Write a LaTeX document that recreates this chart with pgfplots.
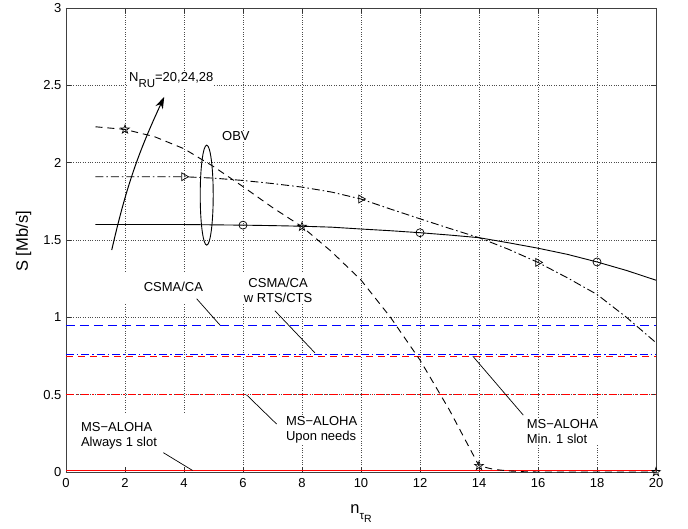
\documentclass[border=0pt]{standalone}
\usepackage{pgfplots}
\pgfplotsset{compat=1.18}
\usepackage{fontspec}
\setmainfont{Liberation Sans}
\usetikzlibrary{arrows.meta}

\pgfdeclareplotmark{pentagram}{%
  \pgfpathmoveto{\pgfpointpolar{90}{\pgfplotmarksize}}%
  \pgfpathlineto{\pgfpointpolar{126}{0.4\pgfplotmarksize}}%
  \pgfpathlineto{\pgfpointpolar{162}{\pgfplotmarksize}}%
  \pgfpathlineto{\pgfpointpolar{198}{0.4\pgfplotmarksize}}%
  \pgfpathlineto{\pgfpointpolar{234}{\pgfplotmarksize}}%
  \pgfpathlineto{\pgfpointpolar{270}{0.4\pgfplotmarksize}}%
  \pgfpathlineto{\pgfpointpolar{306}{\pgfplotmarksize}}%
  \pgfpathlineto{\pgfpointpolar{342}{0.4\pgfplotmarksize}}%
  \pgfpathlineto{\pgfpointpolar{18}{\pgfplotmarksize}}%
  \pgfpathlineto{\pgfpointpolar{54}{0.4\pgfplotmarksize}}%
  \pgfpathclose
  \pgfusepathqstroke
}

\definecolor{mblue}{RGB}{0,0,255}
\definecolor{mred}{RGB}{255,0,0}

\tikzset{
  dsh/.style={dash pattern=on 7bp off 5bp},
  dshdot/.style={dash pattern=on 8bp off 3bp on 1.5bp off 3bp},
  lbl/.style={font=\fontsize{13bp}{15bp}\selectfont, inner sep=1bp},
  lead/.style={black, line width=0.7bp},
}

\begin{document}
\begin{tikzpicture}
\begin{axis}[name=ax,
  scale only axis, width=590bp, height=464bp,
  xmin=0, xmax=20, ymin=0, ymax=3,
  xtick={0,2,4,6,8,10,12,14,16,18,20},
  ytick={0,0.5,1,1.5,2,2.5,3},
  yticklabels={0,0.5,1,1.5,2,2.5,3},
  grid=major, grid style={dotted, black!70, line width=0.7bp},
  tick align=inside, major tick length=5bp,
  tick style={black!80, line width=0.6bp},
  axis line style={black!75, line width=0.9bp},
  ticklabel style={font=\fontsize{13bp}{15bp}\selectfont},
  xticklabel style={yshift=-3bp},
  yticklabel style={xshift=-1bp},
  /pgf/number format/assume math mode=true,
  xlabel={\fontsize{16.5bp}{18bp}\selectfont n\raisebox{-6bp}{\fontsize{11.5bp}{12bp}\selectfont τ\raisebox{-3bp}{\fontsize{10.5bp}{11bp}\selectfont R}}},
  xlabel style={at={(axis description cs:0.5,0)}, anchor=base, yshift=-41bp},
  ylabel={S [Mb/s]},
  ylabel style={font=\fontsize{16.5bp}{18bp}\selectfont, at={(axis description cs:-0.072,0.497)}, anchor=center},
  clip=false,
]
% horizontal reference lines
\addplot[color=mred, line width=0.9bp] coordinates {(0,0.01) (20,0.01)};
\addplot[color=mblue, line width=1bp, dshdot] coordinates {(0,0.762) (20,0.762)};
\addplot[color=mred, line width=0.9bp, dsh] coordinates {(0,0.749) (20,0.749)};
\addplot[color=mred, line width=0.9bp, dshdot] coordinates {(0,0.499) (20,0.499)};

% white label boxes interrupting the grid
\fill[white] (axis cs:0.5,1.09) rectangle (axis cs:9.2,1.29);
\fill[white] (axis cs:0.3,0.045) rectangle (axis cs:4.5,0.38);

% OBV curves
\addplot[black, line width=0.9bp, dsh] coordinates {
(1,2.232)(2,2.215)(3,2.168)(4,2.09)(5,1.975)(6,1.845)(7,1.71)(8,1.586)(9,1.425)(10,1.241)(11,1.0)(12,0.724)(13,0.40)(13.5,0.22)(14,0.04)(14.5,0.017)(15,0.007)(15.5,0.002)(16,0)(20,0)};
\addplot[black, line width=0.9bp, only marks, mark=pentagram, mark size=4.5bp, mark options={line width=0.7bp}] coordinates {
(2,2.215)(8,1.586)(14,0.04)(20,0)};

\addplot[black, line width=0.9bp, dshdot] coordinates {
(1,1.909)(4,1.909)(5,1.9)(6,1.885)(7,1.865)(8,1.842)(9,1.81)(10,1.765)(11,1.70)(12,1.637)(13,1.575)(14,1.515)(15,1.44)(16,1.355)(17,1.255)(18,1.148)(19,1.0)(20,0.836)};
\addplot[black, only marks, mark=triangle, mark size=4.5bp, mark options={rotate=-90, line width=0.7bp}] coordinates {
(4,1.909)(10,1.765)(16,1.355)};

\addplot[black, line width=0.9bp] coordinates {
(1,1.6)(2,1.6)(3,1.6)(4,1.6)(5,1.598)(6,1.596)(7,1.593)(8,1.589)(9,1.583)(10,1.571)(11,1.56)(12,1.547)(13,1.532)(14,1.515)(15,1.482)(16,1.447)(17,1.407)(18,1.358)(19,1.303)(20,1.24)};
\addplot[black, only marks, mark=o, mark size=4bp, mark options={line width=0.7bp}] coordinates {
(6,1.596)(12,1.547)(18,1.358)};

% CSMA/CA line drawn last
\addplot[blue, line width=1bp, dash pattern=on 9bp off 5bp] coordinates {(0,0.95) (20,0.95)};

% annotations
\node[lbl, fill=white, anchor=west] at (axis cs:2.1,2.535) {N\raisebox{-6bp}{\fontsize{11.5bp}{12bp}\selectfont RU}=20,24,28};
\draw[black, line width=1bp, -{Stealth[length=12bp, width=8bp]}] (axis cs:1.55,1.435) to[bend left=6] (axis cs:3.33,2.426);
\node[lbl, fill=white] at (axis cs:5.76,2.17) {OBV};
\draw[black, line width=0.9bp] (axis cs:4.77,1.79) ellipse [x radius=6.5bp, y radius=50bp];

\node[lbl] at (axis cs:3.64,1.196) {CSMA/CA};
\draw[lead] (axis cs:4.43,1.12) -- (axis cs:5.22,0.95);
\node[lbl, align=center] at (axis cs:7.19,1.176) {CSMA/CA\\w RTS/CTS};
\draw[lead] (axis cs:7.08,1.043) -- (axis cs:8.44,0.77);

\node[lbl, align=left, anchor=west, fill=white] at (axis cs:7.42,0.27) {MS−ALOHA\\Upon needs};
\draw[lead] (axis cs:6.12,0.499) -- (axis cs:7.14,0.31);
\node[lbl, align=left, anchor=west, fill=white] at (axis cs:15.58,0.26) {MS−ALOHA\\Min. 1 slot};
\draw[lead] (axis cs:13.79,0.749) -- (axis cs:15.5,0.368);
\node[lbl, align=left, anchor=west] at (axis cs:0.47,0.233) {MS−ALOHA\\Always 1 slot};
\draw[lead] (axis cs:3.3,0.125) -- (axis cs:4.29,0.01);
\end{axis}
\pgfresetboundingbox
\path ([shift={(-66bp,-57bp)}]ax.south west) rectangle ([shift={(32bp,8bp)}]ax.north east);
\end{tikzpicture}
\end{document}
